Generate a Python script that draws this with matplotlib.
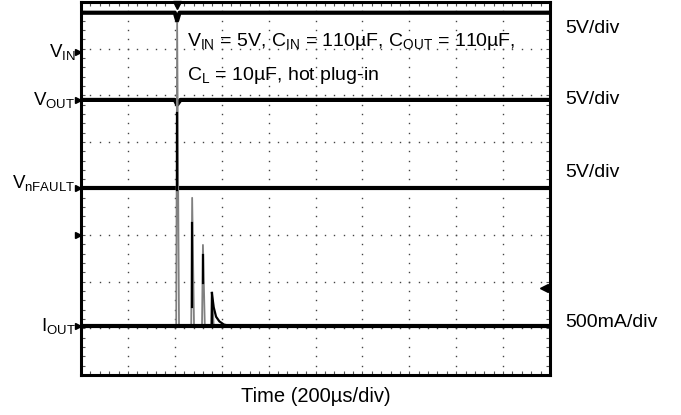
import matplotlib.pyplot as plt
import numpy as np

plt.rcParams['font.family'] = ['Liberation Sans', 'DejaVu Sans']
plt.rcParams['mathtext.fontset'] = 'custom'
plt.rcParams['mathtext.rm'] = 'Liberation Sans'
plt.rcParams['mathtext.default'] = 'rm'

# scope screen: 10 x 8 divisions, values in divisions
vin_t = [0, 2.00, 2.05, 2.10, 10]
vin_v = [7.77, 7.77, 7.60, 7.77, 7.77]
vout_t = [0, 2.00, 2.05, 2.12, 10]
vout_v = [5.90, 5.90, 5.80, 5.90, 5.90]
nfault_level = 4.02
iout_level = 1.05

# IOUT inrush spikes (time, peak, dense black part top/bottom)
spike_t = [2.05, 2.37, 2.60, 2.79]
spike_peak = [7.55, 3.80, 2.79, 1.76]
spike_blk_top = [5.63, 3.25, 2.57, 1.76]
spike_blk_bot = [3.97, 1.45, 1.98, 1.05]
# tail of last spike
tail_t = [2.79, 2.83, 2.88, 2.95, 3.05, 3.20]
tail_v = [1.76, 1.45, 1.25, 1.15, 1.08, 1.05]

# ground / level markers on the left, trigger level on the right
left_marks = [6.93, 5.90, 4.02, 3.0, 1.05]
trig_level = 1.87

left_labels = ['V$_{IN}$', 'V$_{OUT}$', 'V$_{nFAULT}$', 'I$_{OUT}$']
left_label_y = [6.93, 5.90, 4.12, 1.05]
right_labels = ['5V/div', '5V/div', '5V/div', '500mA/div']
right_label_y = [7.43, 5.90, 4.35, 1.13]

fig = plt.figure(figsize=(6.81, 4.15), dpi=100)
ax = fig.add_axes([81 / 681, 40 / 415, 469 / 681, 373 / 415])
ax.set_xlim(0, 10)
ax.set_ylim(0, 8)

# dotted graticule
for gx in range(1, 10):
    yy = np.arange(0.2, 8, 0.2)
    ax.plot(np.full_like(yy, gx), yy, ls='none', marker='s', ms=1.0, color='#444444', mew=0)
for gy in range(1, 8):
    xx = np.arange(0.2, 10, 0.2)
    ax.plot(xx, np.full_like(xx, gy), ls='none', marker='s', ms=1.0, color='#444444', mew=0)

ax.set_xticks(range(0, 11))
ax.set_yticks(range(0, 9))
ax.set_xticks(np.arange(0, 10.01, 0.2), minor=True)
ax.set_yticks(np.arange(0, 8.01, 0.2), minor=True)
ax.tick_params(which='both', direction='in', top=True, right=True,
               labelbottom=False, labelleft=False, length=3, width=0.8, color='#555555')
for s in ax.spines.values():
    s.set_linewidth(2.2)

# traces
ax.plot(vin_t, vin_v, color='black', lw=3.0, solid_capstyle='butt')
ax.plot(vout_t, vout_v, color='black', lw=3.0, solid_capstyle='butt')
ax.plot([0, 10], [nfault_level, nfault_level], color='black', lw=3.0)

for t, pk, bt, bb in zip(spike_t, spike_peak, spike_blk_top, spike_blk_bot):
    ax.plot([t - 0.02, t, t + 0.04], [iout_level, pk, iout_level], color='#808080', lw=1.3)
    ax.plot([t, t], [bb, bt], color='black', lw=1.6)
ax.plot(tail_t, tail_v, color='black', lw=1.6)
ax.plot([0, 10], [iout_level, iout_level], color='black', lw=3.0)

# trigger position marker at top
ax.plot([2.05], [7.93], marker='v', ms=6, color='black', clip_on=False)

# level markers
for m in left_marks:
    ax.plot([-0.07], [m], marker='>', ms=4, color='black', clip_on=False)
ax.plot([9.88], [trig_level], marker='<', ms=6, color='black')

for lab, y in zip(left_labels, left_label_y):
    ax.text(-0.12, y, lab, ha='right', va='center', fontsize=13.5)
for lab, y in zip(right_labels, right_label_y):
    ax.text(10.32, y, lab, ha='left', va='center', fontsize=14)

ax.text(2.25, 7.15, 'V$_{IN}$ = 5V, C$_{IN}$ = 110µF, C$_{OUT}$ = 110µF,', fontsize=14,
        ha='left', va='center')
ax.text(2.25, 6.43, 'C$_{L}$ = 10µF, hot plug-in', fontsize=14, ha='left', va='center')

ax.text(5, -0.47, 'Time (200µs/div)', fontsize=14.5, ha='center', va='center')

fig.savefig('out.png', dpi=100)
